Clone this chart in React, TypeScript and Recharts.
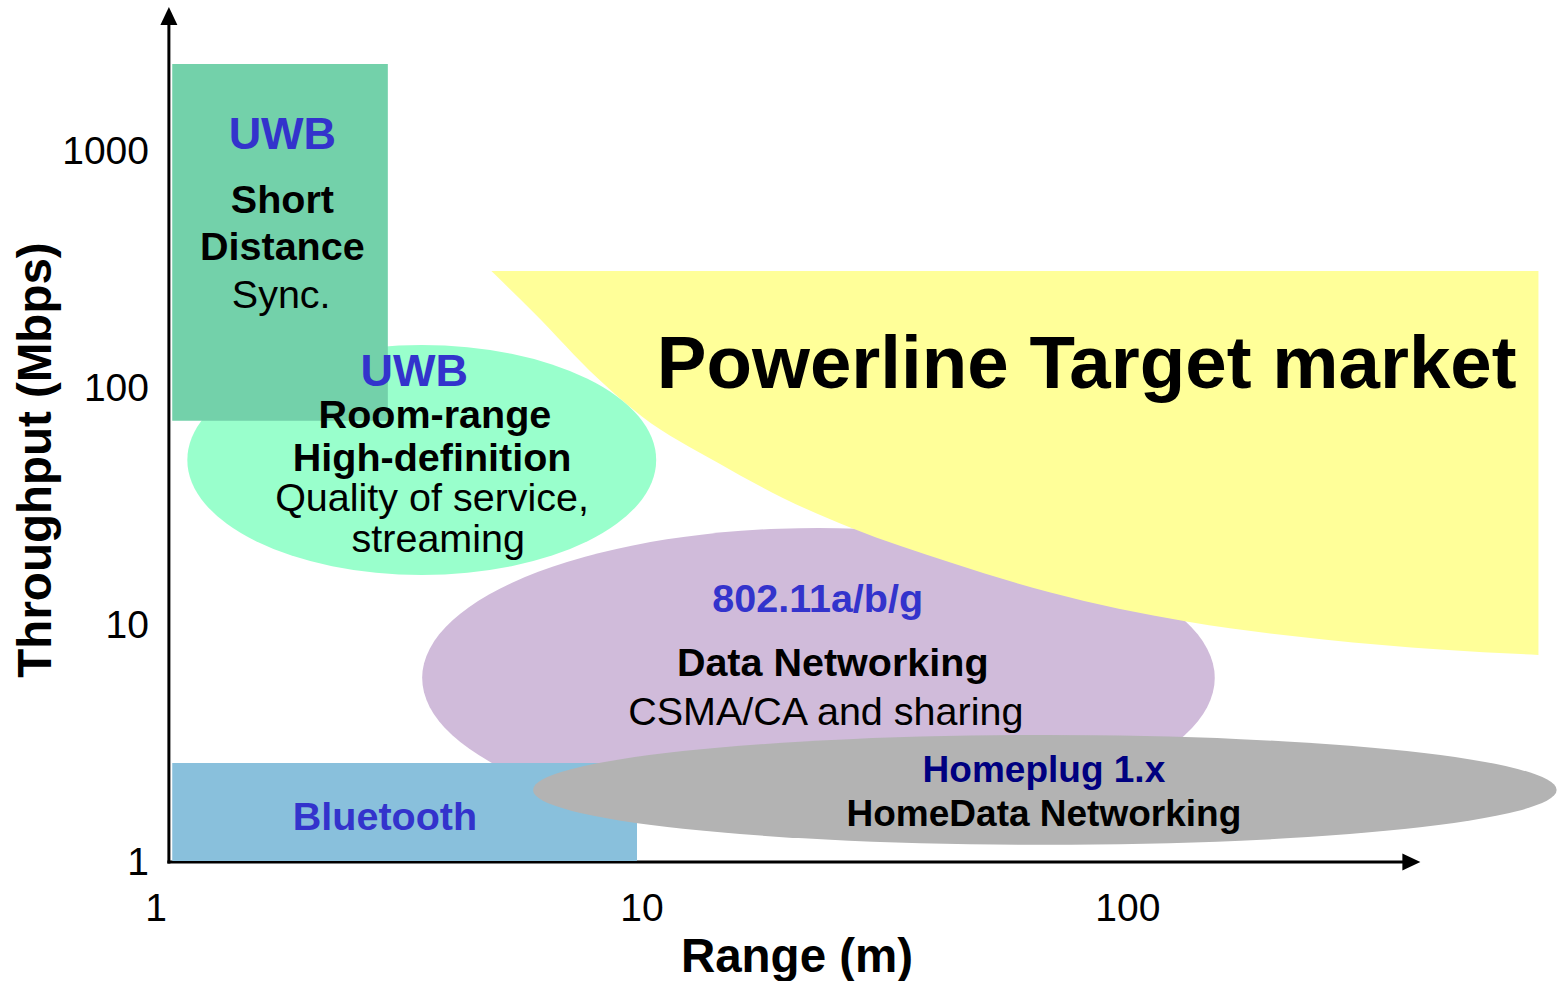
import React from 'react';
import {
  ComposedChart, XAxis, YAxis, Area,
  ReferenceArea, ReferenceLine, ReferenceDot,
} from 'recharts';

document.body.style.margin = '0';
document.body.style.overflow = 'hidden';

const FONT = '"Liberation Sans", Arial, Helvetica, sans-serif';

// --- axes (both log scale) ---
const X_DOMAIN = [1, 750];
const Y_DOMAIN = [1, 4000];
const X_TICKS = [1, 10, 100];
const Y_TICKS = [1, 10, 100, 1000];
const AXIS_CORNER = { x: 1.063, y: 0.99 };
const X_ARROW_END = 400;
const Y_ARROW_END = 4000;

// --- technology regions: range (m) and throughput (Mbps) bounds ---
const WIFI_RANGE = [3.53, 151];
const WIFI_RATE = [1.38, 25.4];
const UWB_ROOM_RANGE = [1.16, 10.7];
const UWB_ROOM_RATE = [16.1, 150];
const UWB_SHORT_RANGE = [1.08, 3.0];
const UWB_SHORT_RATE = [72, 2300];
const BT_RANGE = [1.08, 9.77];
const BT_RATE = [1, 2.59];
const HOMEPLUG_RANGE = [5.97, 763];
const HOMEPLUG_RATE = [1.17, 3.4];

// --- powerline target market: lower edge of the region ---
const TARGET_RANGE = [4.9, 6, 8.1, 10, 14.3, 19.5, 27, 43, 69, 133, 253, 440, 700];
const TARGET_LOW = [308, 205, 109, 75, 48, 34, 25.4, 18.2, 13.6, 10.2, 8.6, 7.8, 7.4];
const TARGET_HIGH = 308;

// --- text annotations, anchored in data coordinates ---
const LABELS = [
  { text: 'UWB', x: 1.82, y: 1176, kind: 'uwb' },
  { text: 'Short', x: 1.82, y: 620, kind: 'bold' },
  { text: 'Distance', x: 1.82, y: 392, kind: 'bold' },
  { text: 'Sync.', x: 1.81, y: 246, kind: 'plain' },
  { text: 'UWB', x: 3.4, y: 117.7, kind: 'uwb' },
  { text: 'Room-range', x: 3.75, y: 76.8, kind: 'bold' },
  { text: 'High-definition', x: 3.7, y: 50.6, kind: 'bold' },
  { text: 'Quality of service,', x: 3.7, y: 34.3, kind: 'plain' },
  { text: 'streaming', x: 3.81, y: 23.0, kind: 'plain' },
  { text: '802.11a/b/g', x: 23.0, y: 12.9, kind: 'tech' },
  { text: 'Data Networking', x: 24.7, y: 6.91, kind: 'bold' },
  { text: 'CSMA/CA and sharing', x: 23.9, y: 4.29, kind: 'plain' },
  { text: 'Homeplug 1.x', x: 67.2, y: 2.44, kind: 'homeplug' },
  { text: 'HomeData Networking', x: 67.2, y: 1.58, kind: 'boldSmall' },
  { text: 'Bluetooth', x: 2.96, y: 1.55, kind: 'tech' },
  { text: 'Powerline Target market', x: 82.3, y: 127, kind: 'headline' },
];

const FILLS = {
  wifi: '#D0BBDA',
  target: '#FFFF99',
  uwbRoom: '#99FFCC',
  uwbShort: '#73D1AA',
  bluetooth: '#89C0DC',
  homeplug: '#B3B3B3',
};

const LABEL_STYLE: Record<string, { fill: string; fontWeight: string; fontSize: number }> = {
  uwb: { fill: '#3333CC', fontWeight: 'bold', fontSize: 45 },
  tech: { fill: '#3333CC', fontWeight: 'bold', fontSize: 39.5 },
  bold: { fill: '#000', fontWeight: 'bold', fontSize: 39.5 },
  plain: { fill: '#000', fontWeight: 'normal', fontSize: 39.5 },
  homeplug: { fill: '#000080', fontWeight: 'bold', fontSize: 37 },
  boldSmall: { fill: '#000', fontWeight: 'bold', fontSize: 37 },
  headline: { fill: '#000', fontWeight: 'bold', fontSize: 74.5 },
};

const targetData = TARGET_RANGE.map((x, i) => ({ x, band: [TARGET_LOW[i], TARGET_HIGH] }));

function EllipseShape(props: any) {
  const { x, y, width, height, fill } = props;
  return (
    <ellipse
      cx={x + width / 2}
      cy={y + height / 2}
      rx={Math.abs(width) / 2}
      ry={Math.abs(height) / 2}
      fill={fill}
    />
  );
}

function ArrowShape(props: any) {
  const x1 = Number(props.x1), y1 = Number(props.y1), x2 = Number(props.x2), y2 = Number(props.y2);
  const len = Math.hypot(x2 - x1, y2 - y1) || 1;
  const ux = (x2 - x1) / len;
  const uy = (y2 - y1) / len;
  const head = 18;
  const half = 8.5;
  const bx = x2 - ux * head;
  const by = y2 - uy * head;
  return (
    <g>
      <line x1={x1} y1={y1} x2={bx} y2={by} stroke="#000" strokeWidth={3} strokeLinecap="square" />
      <polygon
        points={`${x2},${y2} ${bx - uy * half},${by + ux * half} ${bx + uy * half},${by - ux * half}`}
        fill="#000"
      />
    </g>
  );
}

function makeLabelShape(text: string, kind: string) {
  const s = LABEL_STYLE[kind];
  return (props: any) => (
    <text
      x={props.cx}
      y={props.cy}
      textAnchor="middle"
      dominantBaseline="central"
      fontFamily={FONT}
      fontSize={s.fontSize}
      fontWeight={s.fontWeight}
      fill={s.fill}
    >
      {text}
    </text>
  );
}

function AxisTitle(props: any) {
  const { viewBox, title, offX, offY, rot } = props;
  if (!viewBox) return null;
  const x = viewBox.x + offX;
  const y = viewBox.y + offY;
  return (
    <text
      x={x}
      y={y}
      transform={rot ? `rotate(${rot}, ${x}, ${y})` : undefined}
      textAnchor="middle"
      dominantBaseline="central"
      fontFamily={FONT}
      fontSize={47.5}
      fontWeight="bold"
      fill="#000"
    >
      {title}
    </text>
  );
}

export default function App() {
  const tick = { fill: '#000', fontSize: 39, fontFamily: FONT };
  return (
    <div style={{ width: 1565, height: 981, background: '#fff', fontFamily: FONT }}>
      <ComposedChart width={1565} height={981} margin={{ top: 7, right: 12, bottom: 0, left: 0 }}>
        <XAxis
          dataKey="x"
          type="number"
          scale="log"
          domain={X_DOMAIN}
          allowDataOverflow
          ticks={X_TICKS}
          interval={0}
          axisLine={false}
          tickLine={false}
          tickSize={0}
          tickMargin={32}
          height={120}
          tick={tick}
          label={<AxisTitle title="Range (m)" offX={641} offY={94} />}
        />
        <YAxis
          type="number"
          scale="log"
          domain={Y_DOMAIN}
          allowDataOverflow
          ticks={Y_TICKS}
          interval={0}
          axisLine={false}
          tickLine={false}
          tickSize={0}
          tickMargin={7}
          width={156}
          tick={tick}
          label={<AxisTitle title="Throughput (Mbps)" offX={34} offY={453} rot={-90} />}
        />

        <ReferenceArea
          x1={WIFI_RANGE[0]} x2={WIFI_RANGE[1]} y1={WIFI_RATE[0]} y2={WIFI_RATE[1]}
          fill={FILLS.wifi} fillOpacity={1} stroke="none" ifOverflow="visible"
          shape={EllipseShape} zIndex={100}
        />
        <Area
          data={targetData}
          dataKey="band"
          type="monotone"
          stroke="none"
          fill={FILLS.target}
          fillOpacity={1}
          dot={false}
          activeDot={false}
          isAnimationActive={false}
          zIndex={110}
        />
        <ReferenceArea
          x1={UWB_ROOM_RANGE[0]} x2={UWB_ROOM_RANGE[1]} y1={UWB_ROOM_RATE[0]} y2={UWB_ROOM_RATE[1]}
          fill={FILLS.uwbRoom} fillOpacity={1} stroke="none" ifOverflow="visible"
          shape={EllipseShape} zIndex={120}
        />
        <ReferenceArea
          x1={UWB_SHORT_RANGE[0]} x2={UWB_SHORT_RANGE[1]} y1={UWB_SHORT_RATE[0]} y2={UWB_SHORT_RATE[1]}
          fill={FILLS.uwbShort} fillOpacity={1} stroke="none" ifOverflow="visible" zIndex={130}
        />
        <ReferenceLine
          segment={[AXIS_CORNER, { x: AXIS_CORNER.x, y: Y_ARROW_END }]}
          ifOverflow="visible" shape={ArrowShape} zIndex={135}
        />
        <ReferenceLine
          segment={[AXIS_CORNER, { x: X_ARROW_END, y: AXIS_CORNER.y }]}
          ifOverflow="visible" shape={ArrowShape} zIndex={135}
        />
        <ReferenceArea
          x1={BT_RANGE[0]} x2={BT_RANGE[1]} y1={BT_RATE[0]} y2={BT_RATE[1]}
          fill={FILLS.bluetooth} fillOpacity={1} stroke="none" ifOverflow="visible" zIndex={140}
        />
        <ReferenceArea
          x1={HOMEPLUG_RANGE[0]} x2={HOMEPLUG_RANGE[1]} y1={HOMEPLUG_RATE[0]} y2={HOMEPLUG_RATE[1]}
          fill={FILLS.homeplug} fillOpacity={1} stroke="none" ifOverflow="visible"
          shape={EllipseShape} zIndex={150}
        />

        {LABELS.map((l, i) => (
          <ReferenceDot
            key={i}
            x={l.x}
            y={l.y}
            r={0}
            ifOverflow="visible"
            shape={makeLabelShape(l.text, l.kind)}
            zIndex={200}
          />
        ))}
      </ComposedChart>
    </div>
  );
}
